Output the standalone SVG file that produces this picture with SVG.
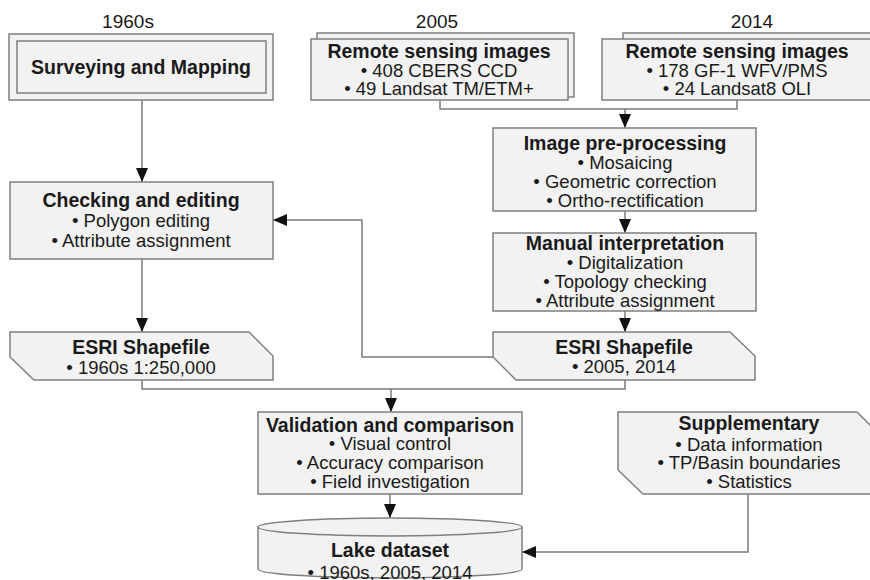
<svg xmlns="http://www.w3.org/2000/svg" width="870" height="580" viewBox="0 0 870 580">
<defs>
<marker id="arr" markerUnits="userSpaceOnUse" markerWidth="14" markerHeight="12" refX="14" refY="6" orient="auto">
<path d="M0,0 L14,6 L0,12 Z" fill="#111"/>
</marker>
<style>
.box{fill:#f2f2f2;stroke:#7f7f7f;stroke-width:1.5}
.con{fill:none;stroke:#7a7a7a;stroke-width:1.5}
.arrow{marker-end:url(#arr)}
text{font-family:"Liberation Sans",Arial,sans-serif;fill:#1a1a1a;text-anchor:middle}
.t{font-weight:bold;font-size:19.5px}
.b{font-size:18.5px}
.y{font-size:19px}
</style>
</defs>
<rect width="870" height="580" fill="#fff"/>

<g id="labels">
<text class="y" x="128" y="28">1960s</text>
<text class="y" x="437" y="28">2005</text>
<text class="y" x="752" y="28">2014</text>
</g>

<g id="connectors">
<path class="con arrow" d="M142,100 V182"/>
<path class="con" d="M440,100 V109 H737 V100"/>
<path class="con arrow" d="M625,109 V128"/>
<path class="con arrow" d="M625,211 V233"/>
<path class="con arrow" d="M625,311 V332"/>
<path class="con arrow" d="M493,357 H362 V220 H273"/>
<path class="con arrow" d="M142,259 V332"/>
<path class="con" d="M142,380 V389 H625 V380"/>
<path class="con arrow" d="M391,389 V412"/>
<path class="con arrow" d="M390,494 V518"/>
<path class="con arrow" d="M748,494 V552 H522"/>
</g>

<g id="surveying">
<rect class="box" x="9" y="34" width="264" height="66"/>
<rect class="box" x="17" y="41" width="249" height="52"/>
<text class="t" x="141" y="74">Surveying and Mapping</text>
</g>

<g id="rs2005">
<rect class="box" x="317" y="33" width="257" height="64"/>
<rect class="box" x="311" y="39" width="257" height="61"/>
<text class="t" x="439" y="58">Remote sensing images</text>
<text class="b" x="439" y="77">• 408 CBERS CCD</text>
<text class="b" x="439" y="95">• 49 Landsat TM/ETM+</text>
</g>

<g id="rs2014">
<rect class="box" x="623" y="33" width="260" height="64"/>
<rect class="box" x="602" y="39" width="272" height="61"/>
<text class="t" x="737" y="58">Remote sensing images</text>
<text class="b" x="737" y="77">• 178 GF-1 WFV/PMS</text>
<text class="b" x="737" y="95">• 24 Landsat8 OLI</text>
</g>

<g id="preprocessing">
<rect class="box" x="493" y="128" width="263" height="83"/>
<text class="t" x="625" y="150">Image pre-processing</text>
<text class="b" x="625" y="169">• Mosaicing</text>
<text class="b" x="625" y="188">• Geometric correction</text>
<text class="b" x="625" y="207">• Ortho-rectification</text>
</g>

<g id="interpretation">
<rect class="box" x="493" y="233" width="263" height="78"/>
<text class="t" x="625" y="250">Manual interpretation</text>
<text class="b" x="625" y="269">• Digitalization</text>
<text class="b" x="625" y="288">• Topology checking</text>
<text class="b" x="625" y="307">• Attribute assignment</text>
</g>

<g id="checking">
<rect class="box" x="10" y="182" width="263" height="77"/>
<text class="t" x="141" y="207">Checking and editing</text>
<text class="b" x="141" y="227">• Polygon editing</text>
<text class="b" x="141" y="247">• Attribute assignment</text>
</g>

<g id="esri1960">
<path class="box" d="M10,332 H249 L273,356 V380 H34 L10,357 Z"/>
<text class="t" x="141" y="354">ESRI Shapefile</text>
<text class="b" x="141" y="374">• 1960s 1:250,000</text>
</g>

<g id="esri2005">
<path class="box" d="M493,332 H730 L755,356 V380 H516 L493,357 Z"/>
<text class="t" x="624" y="354">ESRI Shapefile</text>
<text class="b" x="624" y="373">• 2005, 2014</text>
</g>

<g id="validation">
<rect class="box" x="258" y="412" width="264" height="82"/>
<text class="t" x="390" y="432">Validation and comparison</text>
<text class="b" x="390" y="450">• Visual control</text>
<text class="b" x="390" y="469">• Accuracy comparison</text>
<text class="b" x="390" y="488">• Field investigation</text>
</g>

<g id="supplementary">
<path class="box" d="M618,412 H857 L881,436 V494 H643 L618,470 Z"/>
<text class="t" x="749" y="430">Supplementary</text>
<text class="b" x="749" y="451">• Data information</text>
<text class="b" x="749" y="469">• TP/Basin boundaries</text>
<text class="b" x="749" y="488">• Statistics</text>
</g>

<g id="lake">
<path class="box" d="M258,527 V569 A132,9 0 0 0 522,569 V527 Z"/>
<ellipse class="box" cx="390" cy="527" rx="132" ry="9"/>
<text class="t" x="390" y="557">Lake dataset</text>
<text class="b" x="390" y="579">• 1960s, 2005, 2014</text>
</g>
</svg>
